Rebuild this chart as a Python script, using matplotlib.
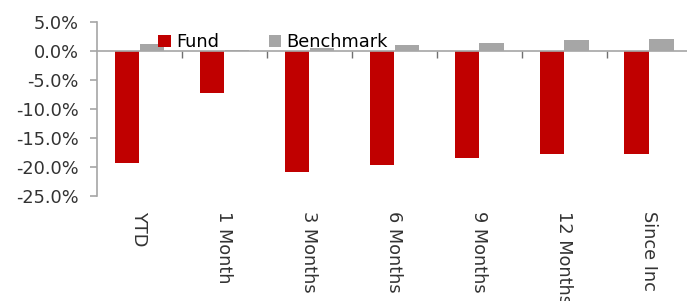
import numpy as np
import matplotlib
matplotlib.use("Agg")
import matplotlib.pyplot as plt
from matplotlib.ticker import FuncFormatter, FixedLocator

categories = ["YTD", "1 Month", "3 Months", "6 Months", "9 Months", "12 Months", "Since Inc"]
fund = [-19.3, -7.3, -20.9, -19.6, -18.5, -17.7, -17.7]
benchmark = [1.1, 0.1, 0.5, 0.95, 1.4, 1.9, 1.95]

plt.rcParams['font.family'] = ['DejaVu Sans']

fig = plt.figure(figsize=(6.87, 3.01), dpi=100)
ax = fig.add_axes([0.141, 0.349, 0.866, 0.579])

x = np.arange(len(categories))
w = 0.29
ax.bar(x - 0.147, fund, w, color="#C00000", label="Fund", zorder=2)
ax.bar(x + 0.147, benchmark, w, color="#A6A6A6", label="Benchmark", zorder=2)

ax.set_xlim(-0.5, len(categories) - 0.5)
ax.set_ylim(-25, 5)
ax.set_yticks(np.arange(-25, 5.1, 5))
ax.yaxis.set_major_formatter(FuncFormatter(lambda v, p: f"{v:.1f}%"))

axis_col = "#A6A6A6"
fs = 12.8
for s in ["top", "right"]:
    ax.spines[s].set_visible(False)
ax.spines["left"].set_color(axis_col)
ax.spines["left"].set_linewidth(1.2)
ax.spines["bottom"].set_position(("data", 0))
ax.spines["bottom"].set_color(axis_col)
ax.spines["bottom"].set_linewidth(1.2)
ax.spines["bottom"].set_zorder(3)

ax.tick_params(axis="y", colors=axis_col, labelcolor="#333333", labelsize=fs,
               length=5, width=1.2, pad=8)
ax.xaxis.set_major_locator(FixedLocator(x[:-1] + 0.5))
ax.tick_params(axis="x", which="major", colors="#707070", length=5, width=1,
               labelbottom=False)

sec = ax.secondary_xaxis(0)
sec.set_xticks(x)
sec.set_xticklabels(categories, rotation=-90, va="top", ha="center")
sec.spines["bottom"].set_visible(False)
sec.tick_params(length=0, pad=11, labelsize=fs, labelcolor="#333333")

ax.legend(loc="center left", bbox_to_anchor=(0.103, 0.883), ncol=2, frameon=False,
          fontsize=fs, handlelength=0.7, handleheight=0.7, handletextpad=0.3,
          columnspacing=2.8, borderaxespad=0, borderpad=0)

fig.savefig("out.png", dpi=100)
